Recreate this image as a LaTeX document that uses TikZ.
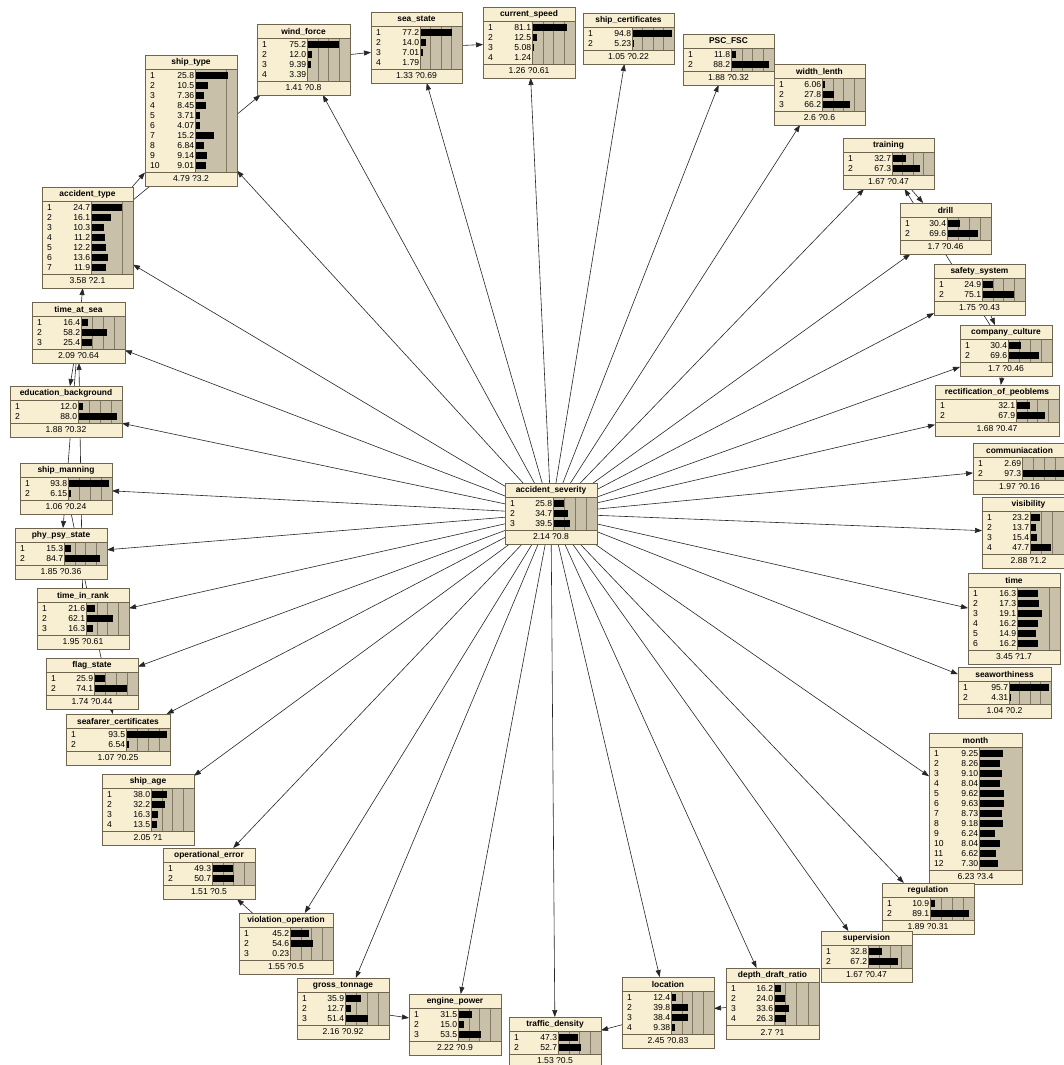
\documentclass[tikz,border=0pt]{standalone}
\usepackage{fontspec}
\setmainfont{Liberation Sans}
\usetikzlibrary{arrows.meta,backgrounds}
\definecolor{cream}{RGB}{248,238,210}
\definecolor{bartan}{RGB}{200,192,168}
\definecolor{bord}{RGB}{110,100,80}
\definecolor{gridc}{RGB}{130,120,100}
\tikzset{
  bnbox/.style={draw=bord, fill=cream, line width=0.8pt, inner sep=0pt, outer sep=0pt, rectangle},
  txt/.style={inner sep=0pt, font=\fontsize{8.6}{9}\selectfont},
  ttl/.style={inner sep=0pt, font=\bfseries\fontsize{8.4}{9}\selectfont},
  frame/.style={draw=bord, line width=0.8pt},
  gridl/.style={draw=gridc, line width=0.5pt},
  link/.style={draw=black!85, line width=0.6pt, -{Triangle[length=7pt,width=5pt]}},
}
% #1 name #2 left #3 top #4 width #5 bar offset #6 scale factor #7 title #8 values #9 footer
\newcommand\bn[9]{%
  \foreach \v [count=\i] in {#8} {\xdef\bnN{\i}}%
  \pgfmathsetmacro\bnH{10*\bnN+31}%
  \pgfmathsetmacro\bnBB{#3+17+10*\bnN}%
  \pgfmathsetmacro\bnR{#2+#4}%
  \pgfmathsetmacro\bnBL{#2+#5}%
  \pgfmathsetmacro\bnBW{#4-#5}%
  \pgfmathsetmacro\bnS{#6*\bnBW/100}%
  \node[bnbox, minimum width=#4pt, minimum height=\bnH pt, anchor=north west] (#1) at (#2,#3) {};
  \fill[bartan] (\bnBL,#3+14) rectangle (\bnR,\bnBB);
  \foreach \j in {1,2,3} {%
    \pgfmathsetmacro\gx{\j*25*\bnS}%
    \ifdim\gx pt<\bnBW pt \draw[gridl] (\bnBL+\gx,#3+14) -- (\bnBL+\gx,\bnBB);\fi
  }%
  \foreach \v [count=\i] in {#8} {%
    \pgfmathsetmacro\yy{#3+20.5+10*(\i-1)}%
    \pgfmathsetmacro\bl{min(\v*\bnS,\bnBW)}%
    \node[txt, anchor=west] at (#2+5,\yy) {\i};
    \node[txt, anchor=east] at (\bnBL-0.7,\yy) {\v};
    \fill[black] (\bnBL,\yy-3.3) rectangle (\bnBL+\bl,\yy+3.3);
  }%
  \draw[frame] (#2,#3+14) -- (\bnR,#3+14);
  \draw[frame] (#2,\bnBB) -- (\bnR,\bnBB);
  \draw[frame] (\bnBL,#3+14) -- (\bnBL,\bnBB);
  \draw[frame] (#1.north west) rectangle (#1.south east);
  \node[ttl] at (#2+#4/2,#3+7.5) {#7};
  \node[txt] at (#2+#4/2,\bnBB+7) {#9};
}
\begin{document}
\begin{tikzpicture}[x=1pt,y=-1pt]
\useasboundingbox (0,0) rectangle (1064,1065);
\bn{sev}{505}{483}{92}{48}{1}{accident\_severity}{25.8,34.7,39.5}{2.14 ?0.8}
\bn{shiptype}{145}{55}{92}{50}{3}{ship\_type}{25.8,10.5,7.36,8.45,3.71,4.07,15.2,6.84,9.14,9.01}{4.79 ?3.2}
\bn{wind}{257}{24}{93}{50}{1}{wind\_force}{75.2,12.0,9.39,3.39}{1.41 ?0.8}
\bn{sea}{371}{12}{91}{49}{1}{sea\_state}{77.2,14.0,7.01,1.79}{1.33 ?0.69}
\bn{current}{483}{7}{92}{49}{1}{current\_speed}{81.1,12.5,5.08,1.24}{1.26 ?0.61}
\bn{shipcert}{583}{13}{91}{49}{1}{ship\_certificates}{94.8,5.23}{1.05 ?0.22}
\bn{psc}{683}{34}{91}{48}{1}{PSC\_FSC}{11.8,88.2}{1.88 ?0.32}
\bn{width}{774}{64}{91}{48}{1}{width\_lenth}{6.06,27.8,66.2}{2.6 ?0.6}
\bn{training}{843}{138}{91}{49}{1}{training}{32.7,67.3}{1.67 ?0.47}
\bn{drill}{900}{203}{91}{47}{1}{drill}{30.4,69.6}{1.7 ?0.46}
\bn{safety}{934}{264}{91}{48}{1}{safety\_system}{24.9,75.1}{1.75 ?0.43}
\bn{company}{960}{325}{92}{48}{1}{company\_culture}{30.4,69.6}{1.7 ?0.46}
\bn{rect}{935}{385}{124}{81}{1}{rectification\_of\_peoblems}{32.1,67.9}{1.68 ?0.47}
\bn{comm}{973}{443}{93}{49}{1}{communiacation}{2.69,97.3}{1.97 ?0.16}
\bn{vis}{982}{497}{93}{48}{1}{visibility}{23.2,13.7,15.4,47.7}{2.88 ?1.2}
\bn{tm}{968}{573}{92}{49}{3}{time}{16.3,17.3,19.1,16.2,14.9,16.2}{3.45 ?1.7}
\bn{seaw}{958}{667}{93}{51}{1}{seaworthiness}{95.7,4.31}{1.04 ?0.2}
\bn{month}{929}{733}{93}{50}{6}{month}{9.25,8.26,9.10,8.04,9.62,9.63,8.73,9.18,6.24,8.04,6.62,7.30}{6.23 ?3.4}
\bn{reg}{882}{883}{92}{48}{1}{regulation}{10.9,89.1}{1.89 ?0.31}
\bn{sup}{821}{931}{91}{47}{1}{supervision}{32.8,67.2}{1.67 ?0.47}
\bn{depth}{726}{968}{93}{48}{1}{depth\_draft\_ratio}{16.2,24.0,33.6,26.3}{2.7 ?1}
\bn{loc}{622}{977}{92}{49}{1}{location}{12.4,39.8,38.4,9.38}{2.45 ?0.83}
\bn{traffic}{509}{1017}{92}{49}{1}{traffic\_density}{47.3,52.7}{1.53 ?0.5}
\bn{engine}{409}{994}{92}{49}{1}{engine\_power}{31.5,15.0,53.5}{2.22 ?0.9}
\bn{gross}{297}{978}{92}{48}{1}{gross\_tonnage}{35.9,12.7,51.4}{2.16 ?0.92}
\bn{viol}{239}{913}{94}{51}{1}{violation\_operation}{45.2,54.6,0.23}{1.55 ?0.5}
\bn{operr}{163}{848}{92}{49}{1}{operational\_error}{49.3,50.7}{1.51 ?0.5}
\bn{shipage}{102}{774}{92}{49}{1}{ship\_age}{38.0,32.2,16.3,13.5}{2.05 ?1}
\bn{seafarer}{66}{714}{104}{60}{1}{seafarer\_certificates}{93.5,6.54}{1.07 ?0.25}
\bn{flag}{46}{658}{92}{48}{1}{flag\_state}{25.9,74.1}{1.74 ?0.44}
\bn{rank}{37}{588}{92}{49}{1}{time\_in\_rank}{21.6,62.1,16.3}{1.95 ?0.61}
\bn{phy}{15}{528}{92}{49}{1}{phy\_psy\_state}{15.3,84.7}{1.85 ?0.36}
\bn{manning}{20}{463}{92}{48}{1}{ship\_manning}{93.8,6.15}{1.06 ?0.24}
\bn{edu}{10}{386}{112}{68}{1}{education\_background}{12.0,88.0}{1.88 ?0.32}
\bn{atsea}{32}{302}{93}{49}{1}{time\_at\_sea}{16.4,58.2,25.4}{2.09 ?0.64}
\bn{acctype}{42}{187}{91}{49}{3}{accident\_type}{24.7,16.1,10.3,11.2,12.2,13.6,11.9}{3.58 ?2.1}
\begin{scope}[on background layer]
\fill[white] (0,0) rectangle (1064,1065);
\foreach \c in {shiptype,wind,sea,current,shipcert,psc,width,training,drill,safety,company,rect,comm,vis,tm,seaw,month,reg,sup,depth,loc,traffic,engine,gross,viol,operr,shipage,seafarer,flag,rank,phy,manning,edu,atsea,acctype}
  {\draw[link] (sev) -- (\c);}
\draw[link] (acctype) -- (shiptype);
\draw[link] (acctype) -- (wind);
\draw[link] (wind) -- (sea);
\draw[link] (sea) -- (current);
\draw[link] (company) -- (training);
\draw[link] (training) -- (drill);
\draw[link] (safety) -- (company);
\draw[link] (company) -- (rect);
\draw[link] (atsea) -- (acctype);
\draw[link] (atsea) -- (edu);
\draw[link] (rank) -- (atsea);
\draw[link] (atsea) -- (phy);
\draw[link] (manning) -- (seafarer);
\draw[link] (viol) -- (operr);
\draw[link] (gross) -- (engine);
\draw[link] (loc) -- (traffic);
\draw[link] (depth) -- (loc);
\end{scope}
\end{tikzpicture}
\end{document}
